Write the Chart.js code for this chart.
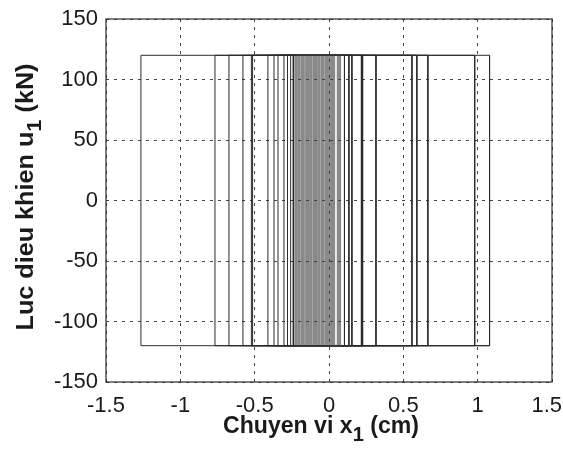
<!DOCTYPE html>
<html>
<head>
<meta charset="utf-8">
<script src="https://cdn.jsdelivr.net/npm/chart.js@4.4.1/dist/chart.umd.min.js"></script>
<style>
  html, body { margin: 0; padding: 0; background: #fff; }
  canvas { display: block; }
</style>
</head>
<body>
<canvas id="chart" width="563" height="458"></canvas>
<script>
// tick labels
const xTicks = [-1.5, -1, -0.5, 0, 0.5, 1, 1.5];
const yTicks = [-150, -100, -50, 0, 50, 100, 150];

// control force switches between +uMax and -uMax
const uMax = 120;

// switching positions x1 (cm), outer loops first
const switchLeft = [-1.265, -0.767, -0.673, -0.579, -0.522, -0.514, -0.411, -0.370, -0.343, -0.303, -0.279, -0.258, -0.240];
const switchRight = [1.08, 0.98, 0.665, 0.591, 0.558, 0.316, 0.226, 0.218, 0.154, 0.134, 0.104];

// dense chattering band around x1 = 0
const switchCore = [-0.228, -0.219, -0.207, -0.199, -0.186, -0.177, -0.168, -0.155, -0.147, -0.136, -0.124, -0.117,
    -0.104, -0.096, -0.085, -0.073, -0.066, -0.053, -0.044, -0.035, -0.022, -0.013, -0.004, 0.008, 0.017, 0.028,
    0.036, 0.058, 0.067, 0.076];

const FONT = "'Liberation Sans', Arial, Helvetica, sans-serif";
const TICK_SIZE = 22;
const TICK_PAD = 11;

// trajectory: horizontal runs at +/-uMax, vertical jumps at each switch
function buildOuter() {
    const pts = [];
    let u = -uMax;
    pts.push({ x: switchRight[0], y: u });
    const n = Math.max(switchLeft.length, switchRight.length);
    for (let i = 0; i < n; i++) {
        if (i < switchLeft.length) {
            pts.push({ x: switchLeft[i], y: u });
            u = -u;
            pts.push({ x: switchLeft[i], y: u });
        }
        if (i < switchRight.length) {
            pts.push({ x: switchRight[i], y: u });
            u = -u;
            pts.push({ x: switchRight[i], y: u });
        }
    }
    return pts;
}

function buildCore() {
    const pts = [];
    let u = uMax;
    switchCore.forEach(x => {
        pts.push({ x: x, y: u });
        u = -u;
        pts.push({ x: x, y: u });
    });
    return pts;
}

// axis titles with a subscript, stretched to the measured length
function drawTitle(ctx, parts, cx, baseY, target, rotate) {
    ctx.save();
    ctx.translate(cx, baseY);
    if (rotate) ctx.rotate(-Math.PI / 2);
    const mainFont = 'bold 23px ' + FONT;
    const subFont = 'bold 20px ' + FONT;
    let w = 0;
    parts.forEach(p => {
        ctx.font = p.sub ? subFont : mainFont;
        w += ctx.measureText(p.t).width;
    });
    ctx.scale(target / w, 1);
    ctx.fillStyle = '#1a1a1a';
    ctx.textBaseline = 'alphabetic';
    ctx.textAlign = 'left';
    let x = -w / 2;
    parts.forEach(p => {
        ctx.font = p.sub ? subFont : mainFont;
        ctx.fillText(p.t, x, p.sub ? 8 : 0);
        x += ctx.measureText(p.t).width;
    });
    ctx.restore();
}

const framePlugin = {
    id: 'frame',
    afterDraw(chart) {
        const { ctx, chartArea: a } = chart;
        ctx.save();
        ctx.strokeStyle = '#2a2a2a';
        ctx.lineWidth = 1.2;
        ctx.strokeRect(a.left, a.top, a.right - a.left, a.bottom - a.top);

        // last x tick label, kept inside the canvas
        const last = xTicks[xTicks.length - 1];
        const label = String(last);
        ctx.font = TICK_SIZE + 'px ' + FONT;
        ctx.fillStyle = '#1a1a1a';
        ctx.textBaseline = 'middle';
        ctx.textAlign = 'left';
        const w = ctx.measureText(label).width;
        const px = Math.min(chart.scales.x.getPixelForValue(last) - w / 2, chart.width - w - 1);
        ctx.fillText(label, px, a.bottom + TICK_PAD + TICK_SIZE * 0.6);
        ctx.restore();

        drawTitle(ctx, [{ t: 'Chuyen vi x' }, { t: '1', sub: true }, { t: ' (cm)' }],
            321, 433, 196, false);
        drawTitle(ctx, [{ t: 'Luc dieu khien u' }, { t: '1', sub: true }, { t: ' (kN)' }],
            33, 197, 267, true);
    }
};

const bgPlugin = {
    id: 'bg',
    beforeDraw(chart) {
        const ctx = chart.ctx;
        ctx.save();
        ctx.fillStyle = '#fff';
        ctx.fillRect(0, 0, chart.width, chart.height);
        ctx.restore();
    }
};

const ctx = document.getElementById('chart').getContext('2d');

const chart = new Chart(ctx, {
    type: 'scatter',
    data: {
        datasets: [
            {
                data: buildCore(),
                showLine: true,
                borderColor: 'rgba(60, 60, 60, 0.6)',
                borderWidth: 1.7,
                pointRadius: 0
            },
            {
                data: buildOuter(),
                showLine: true,
                borderColor: '#2b2b2b',
                borderWidth: 1,
                pointRadius: 0
            }
        ]
    },
    options: {
        responsive: false,
        animation: false,
        layout: { padding: { left: 0, top: 19, right: 11, bottom: 0 } },
        plugins: {
            legend: { display: false },
            tooltip: { enabled: false }
        },
        scales: {
            x: {
                type: 'linear',
                min: -1.5,
                max: 1.5,
                afterBuildTicks: scale => { scale.ticks = xTicks.map(v => ({ value: v })); },
                afterFit: scale => { scale.height = 76; scale.paddingLeft = 0; scale.paddingRight = 0; },
                ticks: {
                    font: { family: FONT, size: TICK_SIZE },
                    color: '#1a1a1a',
                    padding: TICK_PAD,
                    maxRotation: 0,
                    // the last label is drawn by the frame plugin
                    callback: v => (v === xTicks[xTicks.length - 1] ? '' : String(v))
                },
                grid: { color: '#444', lineWidth: 1, drawTicks: false },
                border: { display: false, dash: [3, 5] }
            },
            y: {
                type: 'linear',
                min: -150,
                max: 150,
                afterBuildTicks: scale => { scale.ticks = yTicks.map(v => ({ value: v })); },
                afterFit: scale => { scale.width = 106; scale.paddingTop = 0; scale.paddingBottom = 0; },
                ticks: {
                    font: { family: FONT, size: TICK_SIZE },
                    color: '#1a1a1a',
                    padding: 8,
                    callback: v => String(v)
                },
                grid: { color: '#444', lineWidth: 1, drawTicks: false },
                border: { display: false, dash: [3, 5] }
            }
        }
    },
    plugins: [bgPlugin, framePlugin]
});
</script>
</body>
</html>
